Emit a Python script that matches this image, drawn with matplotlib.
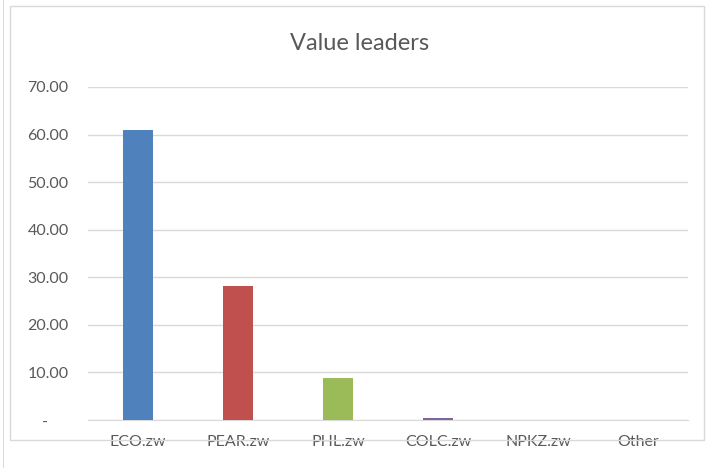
import matplotlib
matplotlib.use('Agg')
import matplotlib.pyplot as plt
from matplotlib.patches import Rectangle

# --- Data ---
categories = ["ECO.zw", "PEAR.zw", "PHL.zw", "COLC.zw", "NPKZ.zw", "Other"]
values     = [61.0, 28.2, 8.8, 0.5, 0.0, 0.0]
colors     = ["#4F81BD", "#C0504D", "#9BBB59", "#8064A2", "#4BACC6", "#F79646"]
yticks     = [0, 10, 20, 30, 40, 50, 60, 70]
ytick_lbls = ["-     ", "10.00", "20.00", "30.00", "40.00", "50.00", "60.00", "70.00"]

plt.rcParams['font.family'] = ['Lato', 'DejaVu Sans']
txt = "#595959"

fig = plt.figure(figsize=(7.08, 4.68), dpi=100)
W, H = 708, 468
ax = fig.add_axes([88 / W, 1 - 420 / H, 600 / W, 333 / H])

# chart frame
fig.patches.append(Rectangle((10 / W, 1 - 440 / H), 694 / W, 434 / H,
                             transform=fig.transFigure, fill=False,
                             edgecolor="#D9D9D9", linewidth=1.0))
fig.patches.append(Rectangle((3 / W, 0), 0.001, 1, transform=fig.transFigure,
                             facecolor="#D9D9D9", edgecolor="none"))

x = range(len(categories))
ax.bar(x, values, width=0.3, color=colors, zorder=3)

ax.set_xlim(-0.5, len(categories) - 0.5)
ax.set_ylim(0, 70)
ax.set_yticks(yticks)
ax.set_yticklabels(ytick_lbls)
ax.set_xticks(list(x))
ax.set_xticklabels(categories)
ax.tick_params(axis="both", length=0, colors=txt, labelsize=11.5)
ax.tick_params(axis="x", pad=11)
ax.tick_params(axis="y", pad=14)
ax.grid(axis="y", color="#D9D9D9", linewidth=1.0, zorder=0)
for s in ["top", "right", "left"]:
    ax.spines[s].set_visible(False)
ax.spines["bottom"].set_color("#D9D9D9")

fig.text(360 / W, 1 - 43 / H, "Value leaders",
         ha="center", va="center", fontsize=17, color=txt)

fig.savefig("out.png", dpi=100)
